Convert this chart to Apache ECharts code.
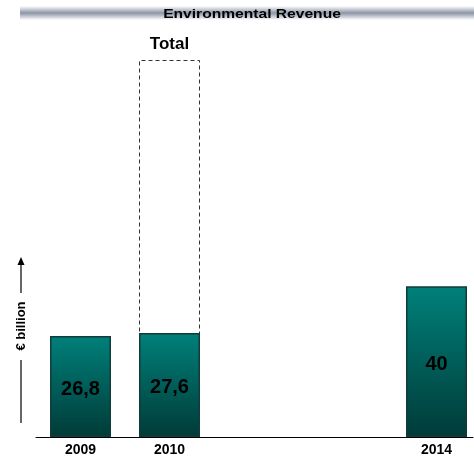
<!DOCTYPE html>
<html>
<head>
<meta charset="utf-8">
<script src="https://cdn.jsdelivr.net/npm/echarts@6/dist/echarts.min.js"></script>
<style>
  html, body { margin: 0; padding: 0; background: #fff; }
  #chart { width: 474px; height: 460px; }
</style>
</head>
<body>
<div id="chart"></div>
<script>
// one slot per year, 2011-2013 left empty
const categories = ["2009", "2010", "", "", "2014"];
const revenue = [26.8, 27.6, null, null, 40];
const revenueLabels = ["26,8", "27,6", "", "", "40"];
const total = [null, 100, null, null, null];

const chart = echarts.init(document.getElementById("chart"), null, { renderer: "canvas" });

const barFill = new echarts.graphic.LinearGradient(0, 0, 0, 1, [
  { offset: 0, color: "#00807a" },
  { offset: 1, color: "#003b38" },
]);

// slot centre on the x value axis
const slotData = (values) => values.map((v, i) => (v === null ? null : [i + 0.5, v]));

function yearLabel(value) {
  const i = value - 0.5;
  if (Math.abs(i - Math.round(i)) > 1e-6) return "";
  return categories[Math.round(i)] || "";
}

chart.setOption({
  animation: false,
  backgroundColor: "#fff",
  textStyle: { fontFamily: "Liberation Sans, Arial, sans-serif" },
  grid: { left: 36, right: 1, top: 60, bottom: 23 },
  xAxis: {
    type: "value",
    min: 0,
    max: 4.91,
    interval: 0.5,
    splitLine: { show: false },
    axisLine: { show: true, lineStyle: { color: "#000", width: 1 } },
    axisTick: { show: false },
    axisLabel: {
      color: "#000",
      fontWeight: "bold",
      fontSize: 14,
      margin: 6,
      showMaxLabel: false,
      formatter: yearLabel,
    },
  },
  yAxis: {
    type: "value",
    min: 0,
    max: 100,
    show: false,
  },
  graphic: [
    {
      type: "rect",
      left: 20,
      top: 6,
      shape: { width: 454, height: 14 },
      style: {
        fill: new echarts.graphic.LinearGradient(0, 0, 0, 1, [
          { offset: 0, color: "#ffffff" },
          { offset: 0.5, color: "#8c95a6" },
          { offset: 1, color: "#ffffff" },
        ]),
      },
      silent: true,
    },
    {
      type: "text",
      x: 252,
      y: 14,
      scaleX: 1.2,
      style: {
        text: "Environmental Revenue",
        fill: "#000",
        font: "bold 13px Liberation Sans, Arial",
        align: "center",
        verticalAlign: "middle",
      },
    },
    {
      type: "text",
      x: 21,
      y: 326,
      rotation: Math.PI / 2,
      style: {
        text: "€ billion",
        fill: "#000",
        font: "bold 13px Liberation Sans, Arial",
        align: "center",
        verticalAlign: "middle",
      },
    },
    {
      type: "line",
      shape: { x1: 21, y1: 293, x2: 21, y2: 262 },
      style: { stroke: "#000", lineWidth: 1.2 },
    },
    {
      type: "polygon",
      shape: { points: [[21, 257], [17.5, 265], [24.5, 265]] },
      style: { fill: "#000" },
    },
    {
      type: "line",
      shape: { x1: 21, y1: 360, x2: 21, y2: 423 },
      style: { stroke: "#000", lineWidth: 1.2 },
    },
  ],
  series: [
    {
      name: "Total",
      type: "bar",
      data: slotData(total),
      barWidth: 61,
      barGap: "-100%",
      z: 1,
      itemStyle: {
        color: "rgba(0,0,0,0)",
        borderColor: "#333",
        borderWidth: 1,
        borderType: [4, 3],
      },
      label: {
        show: true,
        position: "top",
        distance: 7,
        formatter: "Total",
        color: "#000",
        fontWeight: "bold",
        fontSize: 17,
      },
    },
    {
      name: "Environmental Revenue",
      type: "bar",
      data: slotData(revenue),
      barWidth: 61,
      z: 2,
      itemStyle: { color: barFill, borderColor: "#123c3a", borderWidth: 1.5 },
      label: {
        show: true,
        position: "inside",
        offset: [0, 3],
        formatter: (p) => revenueLabels[Math.round(p.value[0] - 0.5)],
        color: "#000",
        fontWeight: "bold",
        fontSize: 20,
      },
    },
  ],
});
</script>
</body>
</html>
